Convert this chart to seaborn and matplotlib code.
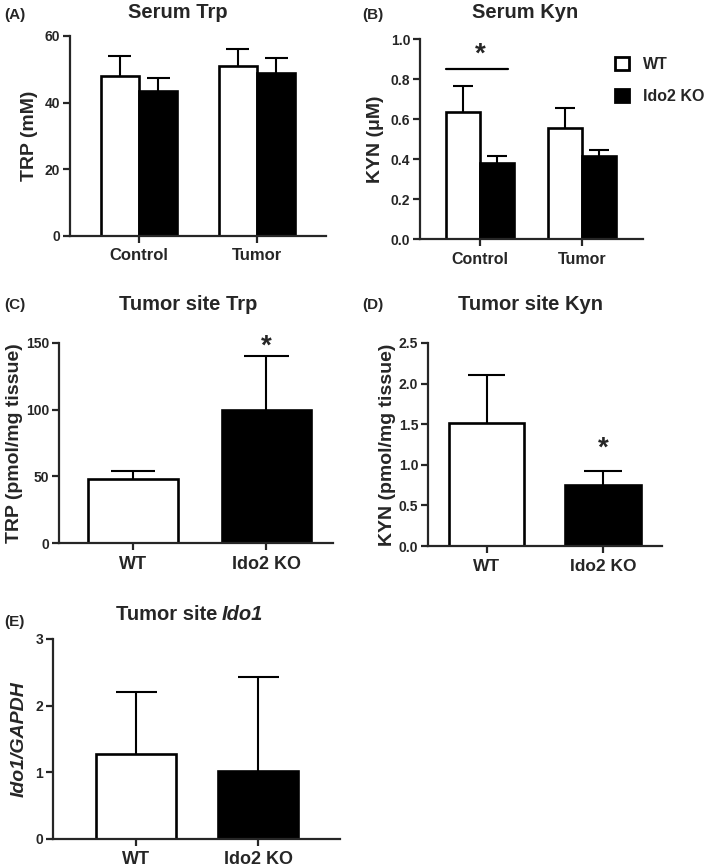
import numpy as np
import pandas as pd
import matplotlib
matplotlib.use("Agg")
import matplotlib.pyplot as plt
from matplotlib.patches import Patch
import seaborn as sns

# --- data ---
genotypes = ["WT", "Ido2 KO"]
groups = ["Control", "Tumor"]

serum_trp_mean = [48.0, 43.5, 51.0, 49.0]      # Control WT, Control KO, Tumor WT, Tumor KO
serum_trp_upper = [54.0, 47.3, 56.0, 53.3]
serum_kyn_mean = [0.635, 0.38, 0.555, 0.415]
serum_kyn_upper = [0.765, 0.413, 0.655, 0.445]

tumor_trp_mean = [48.0, 100.0]
tumor_trp_upper = [54.0, 140.0]
tumor_kyn_mean = [1.52, 0.75]
tumor_kyn_upper = [2.10, 0.92]
tumor_ido1_mean = [1.28, 1.02]
tumor_ido1_upper = [2.20, 2.43]

sns.set_theme(style="ticks")
plt.rcParams["font.family"] = ["Liberation Sans", "DejaVu Sans"]
plt.rcParams["font.weight"] = "bold"
plt.rcParams["axes.linewidth"] = 1.6

palette = {"WT": "white", "Ido2 KO": "black"}
LW = 1.5
EDGE = 1.9


def style_axes(ax, yticks, ylim_top, xlim, xsize):
    ax.set_ylim(0, ylim_top)
    ax.set_yticks(yticks)
    ax.set_xlim(*xlim)
    sns.despine(ax=ax)
    ax.tick_params(axis="y", length=5, width=1.6, labelsize=10, pad=2)
    ax.tick_params(axis="x", length=5, width=1.6, labelsize=xsize, pad=4)
    for lab in ax.get_xticklabels() + ax.get_yticklabels():
        lab.set_fontweight("bold")
    ax.set_xlabel("")


def add_errorbars(ax, means, uppers, cap=0.28):
    bars = [p for p in ax.patches if p.get_height() > 0]
    xs = [p.get_x() + p.get_width() / 2 for p in bars]
    hs = [p.get_height() for p in bars]
    for m, u in zip(means, uppers):
        j = int(np.argmin([abs(h - m) for h in hs]))
        x = xs[j]
        w = bars[j].get_width()
        ax.plot([x, x], [m, u], color="black", lw=LW, zorder=1, solid_capstyle="butt")
        ax.plot([x - w * cap, x + w * cap], [u, u], color="black", lw=LW, zorder=1,
                solid_capstyle="butt")


fig = plt.figure(figsize=(7.09, 8.67), dpi=100)

# ---------- (A) Serum Trp ----------
ax_a = fig.add_axes([0.0987, 0.7278, 0.361, 0.2307])
df_a = pd.DataFrame({
    "group": [g for g in groups for _ in genotypes],
    "genotype": genotypes * 2,
    "value": serum_trp_mean,
})
sns.barplot(data=df_a, x="group", y="value", hue="genotype", palette=palette,
            edgecolor="black", linewidth=EDGE, width=0.65, errorbar=None,
            legend=False, ax=ax_a, zorder=2)
add_errorbars(ax_a, serum_trp_mean, serum_trp_upper, cap=0.3)
style_axes(ax_a, [0, 20, 40, 60], 60, (-0.585, 1.585), 12)
ax_a.set_ylabel("TRP (mM)", fontsize=14, fontweight="bold", labelpad=5)

# ---------- (B) Serum Kyn ----------
ax_b = fig.add_axes([0.5924, 0.7243, 0.3146, 0.2307])
df_b = pd.DataFrame({
    "group": [g for g in groups for _ in genotypes],
    "genotype": genotypes * 2,
    "value": serum_kyn_mean,
})
sns.barplot(data=df_b, x="group", y="value", hue="genotype", palette=palette,
            edgecolor="black", linewidth=EDGE, width=0.66, errorbar=None,
            legend=False, ax=ax_b, zorder=2)
add_errorbars(ax_b, serum_kyn_mean, serum_kyn_upper, cap=0.3)
style_axes(ax_b, [0.0, 0.2, 0.4, 0.6, 0.8, 1.0], 1.0, (-0.59, 1.6), 11.5)
ax_b.set_yticklabels(["0.0", "0.2", "0.4", "0.6", "0.8", "1.0"], fontweight="bold")
ax_b.set_ylabel("KYN (\u03bcM)", fontsize=14, fontweight="bold", labelpad=5)
ax_b.plot([-0.33, 0.27], [0.85, 0.85], color="black", lw=1.6, clip_on=False)
ax_b.text(0.0, 0.92, "*", ha="center", va="center", fontsize=20, fontweight="bold")
handles = [Patch(facecolor=palette[g], edgecolor="black", linewidth=2, label=g) for g in genotypes]
fig.legend(handles=handles, loc="upper left", bbox_to_anchor=(615 / 709, 1 - 57 / 867),
           frameon=False, prop={"size": 11.5, "weight": "bold"}, handlelength=0.85,
           handleheight=0.9, handletextpad=0.9, labelspacing=1.05, borderpad=0,
           borderaxespad=0)

# ---------- (C) Tumor site Trp ----------
ax_c = fig.add_axes([0.0832, 0.3737, 0.3865, 0.2307])
df_c = pd.DataFrame({"genotype": genotypes, "value": tumor_trp_mean})
sns.barplot(data=df_c, x="genotype", y="value", hue="genotype", palette=palette,
            edgecolor="black", linewidth=EDGE, width=0.67, errorbar=None,
            legend=False, ax=ax_c, zorder=2)
add_errorbars(ax_c, tumor_trp_mean, tumor_trp_upper, cap=0.25)
style_axes(ax_c, [0, 50, 100, 150], 150, (-0.556, 1.5), 13)
ax_c.set_ylabel("TRP (pmol/mg tissue)", fontsize=14, fontweight="bold", labelpad=2)
ax_c.text(1, 147, "*", ha="center", va="center", fontsize=20, fontweight="bold", clip_on=False)

# ---------- (D) Tumor site Kyn ----------
ax_d = fig.add_axes([0.6037, 0.3702, 0.33, 0.2342])
df_d = pd.DataFrame({"genotype": genotypes, "value": tumor_kyn_mean})
sns.barplot(data=df_d, x="genotype", y="value", hue="genotype", palette=palette,
            edgecolor="black", linewidth=EDGE, width=0.645, errorbar=None,
            legend=False, ax=ax_d, zorder=2)
add_errorbars(ax_d, tumor_kyn_mean, tumor_kyn_upper, cap=0.25)
style_axes(ax_d, [0.0, 0.5, 1.0, 1.5, 2.0, 2.5], 2.5, (-0.502, 1.506), 12.5)
ax_d.set_yticklabels(["0.0", "0.5", "1.0", "1.5", "2.0", "2.5"], fontweight="bold")
ax_d.set_ylabel("KYN (pmol/mg tissue)", fontsize=14, fontweight="bold", labelpad=2)
ax_d.text(1, 1.2, "*", ha="center", va="center", fontsize=20, fontweight="bold")

# ---------- (E) Tumor site Ido1 ----------
ax_e = fig.add_axes([0.0748, 0.0323, 0.4047, 0.2307])
df_e = pd.DataFrame({"genotype": genotypes, "value": tumor_ido1_mean})
sns.barplot(data=df_e, x="genotype", y="value", hue="genotype", palette=palette,
            edgecolor="black", linewidth=EDGE, width=0.656, errorbar=None,
            legend=False, ax=ax_e, zorder=2)
add_errorbars(ax_e, tumor_ido1_mean, tumor_ido1_upper, cap=0.26)
style_axes(ax_e, [0, 1, 2, 3], 3, (-0.684, 1.668), 13)
ax_e.set_ylabel("Ido1/GAPDH", fontsize=14, fontweight="bold", fontstyle="italic", labelpad=6)

# ---------- titles and panel letters ----------
title_kw = dict(va="center", fontsize=14.5, fontweight="bold")
fig.text(178 / 709, 1 - 13 / 867, "Serum Trp", ha="center", **title_kw)
fig.text(525 / 709, 1 - 13 / 867, "Serum Kyn", ha="center", **title_kw)
fig.text(188 / 709, 1 - 305 / 867, "Tumor site Trp", ha="center", **title_kw)
fig.text(531 / 709, 1 - 305 / 867, "Tumor site Kyn", ha="center", **title_kw)
fig.text(217 / 709, 1 - 615 / 867, "Tumor site", ha="right", **title_kw)
fig.text(222 / 709, 1 - 615 / 867, "Ido1", ha="left", fontstyle="italic", **title_kw)

letter_kw = dict(ha="left", va="center", fontsize=11, fontweight="bold")
fig.text(4 / 709, 1 - 15 / 867, "(A)", **letter_kw)
fig.text(362 / 709, 1 - 15 / 867, "(B)", **letter_kw)
fig.text(4 / 709, 1 - 305 / 867, "(C)", **letter_kw)
fig.text(362 / 709, 1 - 305 / 867, "(D)", **letter_kw)
fig.text(4 / 709, 1 - 622 / 867, "(E)", **letter_kw)

fig.savefig("out.png", dpi=100)
